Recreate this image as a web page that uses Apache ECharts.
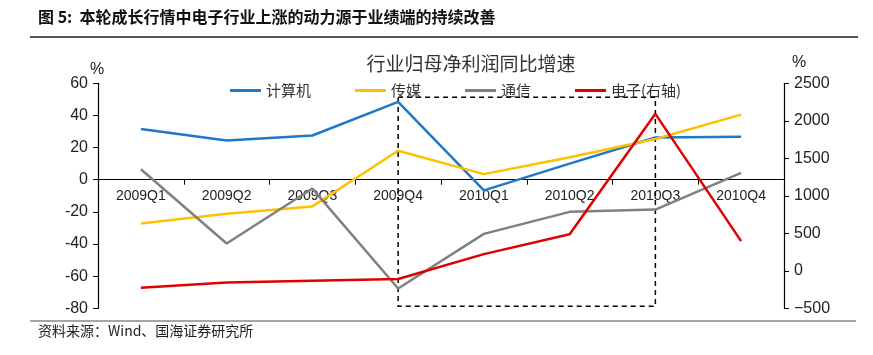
<!DOCTYPE html>
<html><head><meta charset="utf-8">
<script src="https://cdn.jsdelivr.net/npm/echarts@6/dist/echarts.min.js"></script>
<style>html,body{margin:0;padding:0;background:#fff}#c{width:873px;height:355px}</style>
</head><body><div id="c"></div>
<script>
var categories = ['2009Q1','2009Q2','2009Q3','2009Q4','2010Q1','2010Q2','2010Q3','2010Q4'];
var computer = [31.5, 24.4, 27.5, 48.4, -6.6, 10, 26.3, 26.7];
var media = [-27.3, -21.1, -16.6, 18, 3.5, 14, 25.3, 40.5];
var telecom = [6.5, -39.7, -5.5, -67.7, -33.7, -20, -18.6, 4.3];
var electronics = [-226, -155, -133, -110, 222, 488, 2093, 395];
var leftTicks = {min: -80, max: 60, interval: 20};
var rightTicks = {min: -500, max: 2500, interval: 500};
var seriesNames = ['计算机','传媒','通信','电子(右轴)'];

var chart = echarts.init(document.getElementById('c'));
var cjk = '"Noto Sans CJK SC", sans-serif';
var lat = '"Liberation Sans", Arial, sans-serif';
var gridTop = 83.3, gridBottom = 46.7, H = 355;
chart.setOption({
  animation: false,
  title: {
    text: '行业归母净利润同比增速',
    left: 466, top: 49, textAlign: 'center',
    textStyle: {fontFamily: cjk, fontSize: 19, fontWeight: 'normal', color: '#333'}
  },
  legend: {
    data: seriesNames, left: 225, top: 78, itemGap: 44, itemWidth: 31, itemHeight: 3,
    icon: 'rect',
    textStyle: {fontFamily: cjk, fontSize: 15, color: '#333'}
  },
  grid: {left: 98, right: 89, top: gridTop, bottom: gridBottom, containLabel: false},
  xAxis: {
    type: 'category', data: categories, boundaryGap: true,
    axisLine: {onZero: false, lineStyle: {color: '#000', width: 1.2}},
    axisTick: {show: true, length: 5, lineStyle: {color: '#000'}},
    axisLabel: {interval: 0, fontFamily: lat, fontSize: 14, color: '#222', margin: 9}
  },
  yAxis: [{
    type: 'value', min: leftTicks.min, max: leftTicks.max, interval: leftTicks.interval,
    axisLine: {show: true, onZero: false, lineStyle: {color: '#000', width: 1.2}},
    axisTick: {show: true, length: 5, lineStyle: {color: '#000'}},
    splitLine: {show: false},
    axisLabel: {fontFamily: lat, fontSize: 16, color: '#222', margin: 10}
  }, {
    type: 'value', min: rightTicks.min, max: rightTicks.max, interval: rightTicks.interval,
    position: 'right',
    axisLine: {show: true, onZero: false, lineStyle: {color: '#000', width: 1.2}},
    axisTick: {show: true, length: 5, lineStyle: {color: '#000'}},
    splitLine: {show: false},
    axisLabel: {fontFamily: lat, fontSize: 16, color: '#222', margin: 10,
      formatter: function(v){ return v < 0 ? '\u2212' + Math.abs(v) : String(v); }}
  }],
  series: [{
    name: seriesNames[0], type: 'line', data: computer, symbol: 'none',
    lineStyle: {color: '#1F78C8', width: 2.5}, itemStyle: {color: '#1F78C8'},
    markArea: {
      silent: true,
      itemStyle: {color: 'rgba(0,0,0,0)', borderColor: '#000', borderWidth: 1.5, borderType: [5, 4]},
      data: [[{xAxis: '2009Q4', yAxis: 51.3}, {xAxis: '2010Q3', yAxis: -78.8}]]
    }
  }, {
    name: seriesNames[1], type: 'line', data: media, symbol: 'none',
    lineStyle: {color: '#FFC000', width: 2.5}, itemStyle: {color: '#FFC000'}
  }, {
    name: seriesNames[2], type: 'line', data: telecom, symbol: 'none',
    lineStyle: {color: '#808080', width: 2.5}, itemStyle: {color: '#808080'}
  }, {
    name: seriesNames[3], type: 'line', data: electronics, yAxisIndex: 1, symbol: 'none',
    lineStyle: {color: '#E00000', width: 2.5}, itemStyle: {color: '#E00000'}
  }],
  graphic: [
    {type: 'text', left: 38, top: 9, style: {text: '图 5:  本轮成长行情中电子行业上涨的动力源于业绩端的持续改善', font: 'bold 16px "Noto Sans CJK SC"', fill: '#111'}},
    {type: 'line', shape: {x1: 30, y1: 37, x2: 858, y2: 37}, style: {stroke: '#555', lineWidth: 2}},
    {type: 'line', shape: {x1: 30, y1: 321, x2: 856, y2: 321}, style: {stroke: '#888', lineWidth: 1.5}},
    {type: 'text', left: 38, top: 324, style: {text: '资料来源：Wind、国海证券研究所', font: '14px "Noto Sans CJK SC"', fill: '#222'}},
    {type: 'text', left: 90, top: 62, style: {text: '%', font: '16px "Liberation Sans"', fill: '#222'}},
    {type: 'text', left: 792, top: 55, style: {text: '%', font: '16px "Liberation Sans"', fill: '#222'}}
  ]
});
// move the category axis onto the left axis' zero line
var zeroY = chart.convertToPixel({yAxisIndex: 0}, 0);
var bottomY = H - gridBottom;
chart.setOption({xAxis: {offset: zeroY - bottomY}});
</script></body></html>
